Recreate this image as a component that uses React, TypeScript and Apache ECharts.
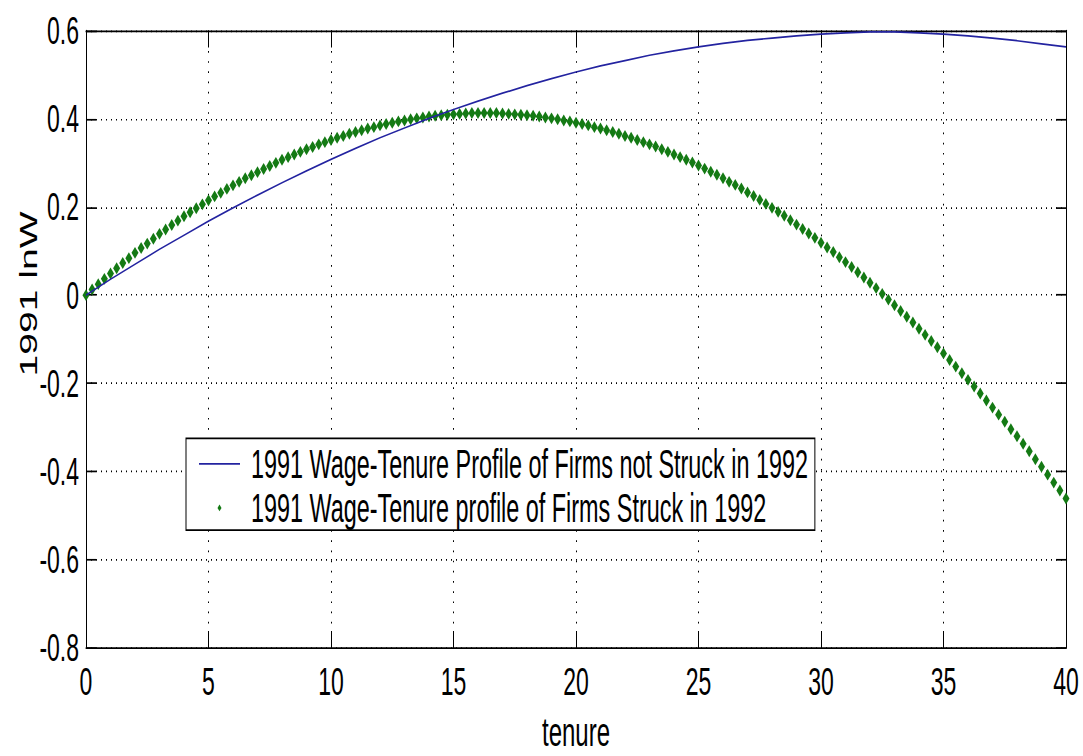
import React, { useEffect, useRef } from "react";
import * as echarts from "echarts";

const FONT = '"Liberation Sans", Arial, Helvetica, sans-serif';
const BASE_H = 445;
const STRETCH = 756 / BASE_H;

const BLUE_NAME = "1991 Wage-Tenure Profile of Firms not Struck in 1992";
const GREEN_NAME = "1991 Wage-Tenure profile of Firms Struck in 1992";
const X_NAME = "tenure";
const Y_NAME = "1991 lnW";

const xTicks = [0, 5, 10, 15, 20, 25, 30, 35, 40];
const yTicks = [-0.8, -0.6, -0.4, -0.2, 0, 0.2, 0.4, 0.6];

const blueTenure = [
  0, 1, 2, 3, 4, 5, 6, 7, 8, 9, 10, 11, 12, 13, 14, 15, 16, 17, 18, 19, 20,
  21, 22, 23, 24, 25, 26, 27, 28, 29, 30, 31, 32, 33, 34, 35, 36, 37, 38, 39, 40,
];
const blueLnW = [
  0, 0.036, 0.070, 0.104, 0.136, 0.168, 0.198, 0.227, 0.255, 0.282, 0.308,
  0.333, 0.357, 0.379, 0.401, 0.421, 0.440, 0.458, 0.475, 0.491, 0.506,
  0.520, 0.532, 0.544, 0.554, 0.563, 0.571, 0.578, 0.583, 0.588, 0.592,
  0.595, 0.597, 0.597, 0.595, 0.592, 0.588, 0.583, 0.577, 0.570, 0.563,
];

const greenTenure = [
  0, 0.25, 0.5, 0.75, 1, 1.25, 1.5, 1.75, 2, 2.25, 2.5, 2.75, 3, 3.25, 3.5, 3.75,
  4, 4.25, 4.5, 4.75, 5, 5.25, 5.5, 5.75, 6, 6.25, 6.5, 6.75, 7, 7.25, 7.5, 7.75,
  8, 8.25, 8.5, 8.75, 9, 9.25, 9.5, 9.75, 10, 10.25, 10.5, 10.75, 11, 11.25, 11.5, 11.75,
  12, 12.25, 12.5, 12.75, 13, 13.25, 13.5, 13.75, 14, 14.25, 14.5, 14.75, 15, 15.25, 15.5, 15.75,
  16, 16.25, 16.5, 16.75, 17, 17.25, 17.5, 17.75, 18, 18.25, 18.5, 18.75, 19, 19.25, 19.5, 19.75,
  20, 20.25, 20.5, 20.75, 21, 21.25, 21.5, 21.75, 22, 22.25, 22.5, 22.75, 23, 23.25, 23.5, 23.75,
  24, 24.25, 24.5, 24.75, 25, 25.25, 25.5, 25.75, 26, 26.25, 26.5, 26.75, 27, 27.25, 27.5, 27.75,
  28, 28.25, 28.5, 28.75, 29, 29.25, 29.5, 29.75, 30, 30.25, 30.5, 30.75, 31, 31.25, 31.5, 31.75,
  32, 32.25, 32.5, 32.75, 33, 33.25, 33.5, 33.75, 34, 34.25, 34.5, 34.75, 35, 35.25, 35.5, 35.75,
  36, 36.25, 36.5, 36.75, 37, 37.25, 37.5, 37.75, 38, 38.25, 38.5, 38.75, 39, 39.25, 39.5, 39.75,
  40,
];
const greenLnW = [
  0, 0.013, 0.025, 0.037, 0.049, 0.061, 0.073, 0.084, 0.096, 0.107, 0.117, 0.128, 0.139, 0.149, 0.159, 0.169,
  0.179, 0.188, 0.197, 0.206, 0.215, 0.224, 0.232, 0.241, 0.249, 0.257, 0.265, 0.272, 0.279, 0.286, 0.293, 0.300,
  0.307, 0.313, 0.319, 0.325, 0.331, 0.336, 0.342, 0.347, 0.352, 0.357, 0.361, 0.366, 0.370, 0.374, 0.378, 0.381,
  0.385, 0.388, 0.391, 0.394, 0.396, 0.399, 0.401, 0.403, 0.405, 0.407, 0.408, 0.409, 0.410, 0.411, 0.412, 0.413,
  0.413, 0.413, 0.413, 0.413, 0.412, 0.411, 0.410, 0.409, 0.408, 0.407, 0.405, 0.403, 0.401, 0.399, 0.396, 0.394,
  0.391, 0.388, 0.385, 0.381, 0.378, 0.374, 0.370, 0.366, 0.361, 0.357, 0.352, 0.347, 0.342, 0.337, 0.331, 0.325,
  0.319, 0.313, 0.307, 0.301, 0.294, 0.287, 0.280, 0.273, 0.265, 0.257, 0.250, 0.242, 0.233, 0.225, 0.216, 0.207,
  0.198, 0.189, 0.180, 0.170, 0.160, 0.150, 0.140, 0.130, 0.119, 0.108, 0.098, 0.086, 0.075, 0.064, 0.052, 0.040,
  0.028, 0.016, 0.003, -0.010, -0.023, -0.036, -0.049, -0.062, -0.076, -0.090, -0.104, -0.118, -0.132, -0.147, -0.162, -0.177,
  -0.192, -0.207, -0.223, -0.239, -0.255, -0.271, -0.287, -0.304, -0.320, -0.337, -0.354, -0.372, -0.389, -0.407, -0.425, -0.443,
  -0.461,
];

const BLUE = "#2323a0";
const GREEN = "#147a14";

function buildOption() {
  const blueData = blueTenure.map((t, i) => [t, blueLnW[i]]);
  const greenData = greenTenure.map((t, i) => [t, greenLnW[i]]);
  const xMin = xTicks[0];
  const xMax = xTicks[xTicks.length - 1];
  const xInt = xTicks[1] - xTicks[0];
  const yMin = yTicks[0];
  const yMax = yTicks[yTicks.length - 1];
  const yInt = 0.2;

  const axisLine = { show: true, onZero: false, lineStyle: { color: "#000", width: 1 } };
  const tick = { show: true, inside: true, length: 10, lineStyle: { color: "#000", width: 1 } };
  const label = { color: "#000", fontSize: 23, fontFamily: FONT };

  return {
    animation: false,
    backgroundColor: "#fff",
    grid: {
      left: 86,
      right: 17,
      top: 18,
      bottom: 63.6,
      containLabel: false,
      outerBoundsMode: "none",
    },
    xAxis: [
      {
        type: "value",
        min: xMin,
        max: xMax,
        interval: xInt,
        position: "bottom",
        axisLine,
        axisTick: tick,
        axisLabel: { ...label, margin: 8.5 },
        splitLine: { show: true, lineStyle: { color: "#000", width: 1, type: [1, 5] } },
        name: X_NAME,
        nameLocation: "middle",
        nameGap: 37.5,
        nameTextStyle: { color: "#000", fontSize: 24, fontFamily: FONT },
      },
      {
        type: "value",
        min: xMin,
        max: xMax,
        interval: xInt,
        position: "top",
        axisLine,
        axisTick: tick,
        axisLabel: { show: false },
        splitLine: { show: false },
      },
    ],
    yAxis: [
      {
        type: "value",
        min: yMin,
        max: yMax,
        interval: yInt,
        position: "left",
        axisLine,
        axisTick: tick,
        axisLabel: { ...label, margin: 7 },
        splitLine: { show: true, lineStyle: { color: "#000", width: 1, type: [1, 4] } },
      },
      {
        type: "value",
        min: yMin,
        max: yMax,
        interval: yInt,
        position: "right",
        axisLine,
        axisTick: tick,
        axisLabel: { show: false },
        splitLine: { show: false },
      },
    ],
    legend: {
      data: [
        { name: BLUE_NAME, icon: "path://M0,0L41,0L41,1L0,1Z" },
        { name: GREEN_NAME, icon: "path://M1,0L2,1L1,2L0,1Z" },
      ],
      orient: "vertical",
      left: 186,
      top: 258,
      itemWidth: 41,
      itemHeight: 4,
      itemGap: 0,
      padding: [2, 7, 0, 13],
      backgroundColor: "#fff",
      borderColor: "#000",
      borderWidth: 1,
      borderRadius: 0,
      selectedMode: false,
      symbolKeepAspect: true,
      textStyle: {
        color: "#000",
        fontSize: 23.4,
        lineHeight: 26,
        fontFamily: FONT,
        padding: [0, 0, 0, 6],
      },
    },
    graphic: [
      {
        type: "text",
        x: 29,
        y: 173,
        rotation: Math.PI / 2,
        style: {
          text: Y_NAME,
          fontSize: 23,
          fontFamily: FONT,
          fill: "#000",
          align: "center",
          verticalAlign: "middle",
        },
      },
    ],
    series: [
      {
        name: GREEN_NAME,
        type: "line",
        data: greenData,
        symbol: "diamond",
        symbolSize: [7, 7],
        showSymbol: true,
        itemStyle: { color: GREEN },
        lineStyle: { width: 0, opacity: 0 },
        z: 2,
      },
      {
        name: BLUE_NAME,
        type: "line",
        data: blueData,
        symbol: "none",
        itemStyle: { color: BLUE },
        lineStyle: { color: BLUE, width: 1 },
        z: 3,
      },
    ],
  };
}

export default function App() {
  const ref = useRef<HTMLDivElement>(null);
  useEffect(() => {
    if (!ref.current) return;
    const chart = echarts.init(ref.current, null, { renderer: "svg" });
    chart.setOption(buildOption() as any);
    return () => {
      chart.dispose();
    };
  }, []);
  return (
    <div
      ref={ref}
      style={{
        position: "fixed",
        left: 0,
        top: 0,
        width: 1083,
        height: BASE_H,
        transform: `scaleY(${STRETCH})`,
        transformOrigin: "0 0",
        background: "#fff",
      }}
    />
  );
}
